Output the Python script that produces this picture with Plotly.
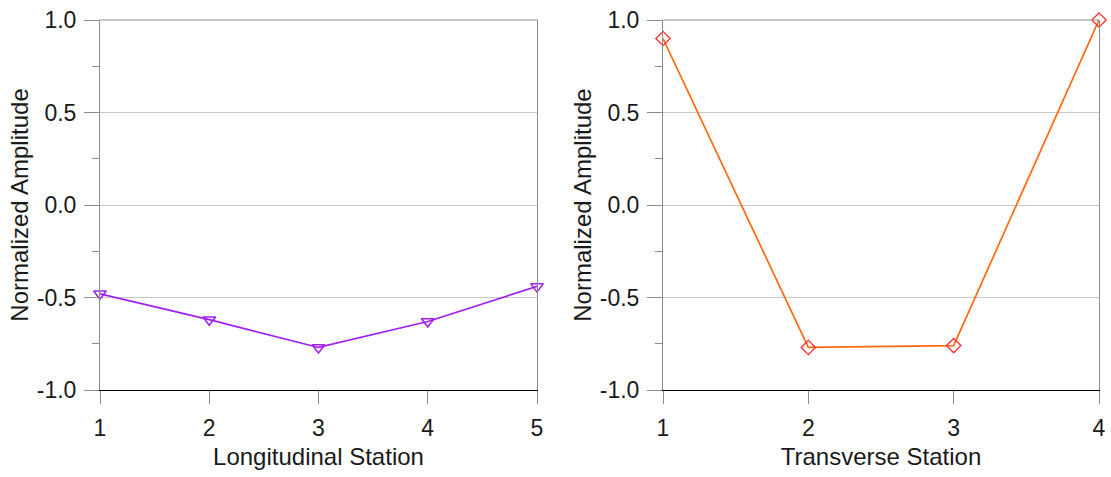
import plotly.graph_objects as go

# Data
long_stations = [1, 2, 3, 4, 5]
long_amplitude = [-0.48, -0.62, -0.77, -0.63, -0.44]
trans_stations = [1, 2, 3, 4]
trans_amplitude = [0.90, -0.77, -0.76, 1.0]
y_ticks = [-1.0, -0.5, 0.0, 0.5, 1.0]
y_tick_labels = ["-1.0", "-0.5", "0.0", "0.5", "1.0"]

W, H = 1111, 477
FONT = "Liberation Sans, Arial, sans-serif"
AXIS_GRAY = "#8c8c8c"
GRID = "#c8c8c8"

fig = go.Figure()
fig.add_trace(go.Scatter(
    x=long_stations, y=long_amplitude, mode="lines+markers",
    line=dict(color="#a020f0", width=1.7),
    marker=dict(symbol="triangle-down-open", size=11, color="#a020f0", line=dict(width=1.5)),
    cliponaxis=False, xaxis="x", yaxis="y", showlegend=False))
fig.add_trace(go.Scatter(
    x=trans_stations, y=trans_amplitude, mode="lines+markers",
    line=dict(color="#ff6a10", width=1.7),
    marker=dict(symbol="diamond-open", size=11, color="#ff2a2a", line=dict(width=1.3)),
    cliponaxis=False, xaxis="x2", yaxis="y2", showlegend=False))

ydom = [(H - 390) / H, (H - 20) / H]
xdom1 = [100 / W, 537 / W]
xdom2 = [663 / W, 1099 / W]

def xaxis(dom, rng, title, anchor):
    return dict(domain=dom, range=rng, anchor=anchor, tickmode="array",
                tickvals=list(range(rng[0], rng[1] + 1)),
                ticks="outside", ticklen=13, tickcolor=AXIS_GRAY, tickwidth=1,
                showline=True, linecolor="black", linewidth=1, mirror=False,
                showgrid=False, zeroline=False, automargin=False,
                ticklabelstandoff=4,
                tickfont=dict(family=FONT, size=23, color="#1a1a1a"),
                title=dict(text=title, standoff=8, font=dict(family=FONT, size=24, color="#1a1a1a")))

def yaxis(anchor):
    return dict(domain=ydom, range=[-1, 1], anchor=anchor, tickmode="array",
                tickvals=y_ticks, ticktext=y_tick_labels,
                ticks="outside", ticklen=15, tickcolor=AXIS_GRAY, tickwidth=1,
                minor=dict(dtick=0.25, tick0=0, ticks="outside", ticklen=7,
                           tickcolor=AXIS_GRAY, showgrid=False),
                showline=True, linecolor=AXIS_GRAY, linewidth=1, mirror=True,
                showgrid=True, gridcolor=GRID, gridwidth=1, zeroline=False,
                automargin=False, ticklabelstandoff=3,
                tickfont=dict(family=FONT, size=23, color="#1a1a1a"),
                title=dict(text="Normalized Amplitude", standoff=1,
                           font=dict(family=FONT, size=24, color="#1a1a1a")))

fig.update_layout(
    width=W, height=H,
    margin=dict(l=0, r=0, t=0, b=0),
    paper_bgcolor="white", plot_bgcolor="white",
    xaxis=xaxis(xdom1, [1, 5], "Longitudinal Station", "y"),
    yaxis=yaxis("x"),
    xaxis2=xaxis(xdom2, [1, 4], "Transverse Station", "y2"),
    yaxis2=yaxis("x2"),
    shapes=[
        dict(type="line", xref="x domain", yref="y domain", x0=0, x1=1, y0=1, y1=1,
             line=dict(color=AXIS_GRAY, width=1)),
        dict(type="line", xref="x2 domain", yref="y2 domain", x0=0, x1=1, y0=1, y1=1,
             line=dict(color=AXIS_GRAY, width=1)),
    ],
)

fig.write_html("out.html", config={"displayModeBar": False},
               post_script="document.body.style.margin='0';document.body.style.overflow='hidden';")
